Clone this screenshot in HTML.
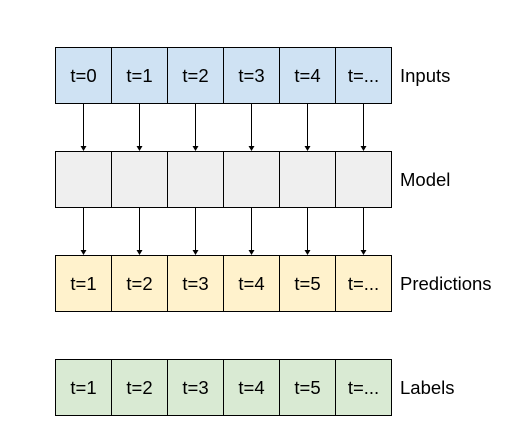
<!DOCTYPE html>
<html><head><meta charset="utf-8"><style>
html,body{margin:0;padding:0;background:#fff;}
svg{display:block;font-family:"Liberation Sans",Arial,sans-serif;}
</style></head><body>
<svg id="d" width="526" height="445" viewBox="0 0 526 445"></svg>
<script>
const rowNames=["Inputs","Model","Predictions","Labels"];
const rowTops=[47,151,255,359];
const rowFills=["#cfe2f3","#efefef","#fff2cc","#d9ead3"];
const cellTexts=[["t=0","t=1","t=2","t=3","t=4","t=..."],["","","","","",""],["t=1","t=2","t=3","t=4","t=5","t=..."],["t=1","t=2","t=3","t=4","t=5","t=..."]];
const arrowRows=[0,1];
const NS="http://www.w3.org/2000/svg";
const svg=document.getElementById('d');
const x0=55,cw=56,ch=56;
function mk(t,a,p){const e=document.createElementNS(NS,t);for(const k in a)e.setAttribute(k,a[k]);(p||svg).appendChild(e);return e;}
rowNames.forEach((name,r)=>{
  const g=mk('g',{});
  
  
  cellTexts[r].forEach((t,i)=>{
    const rc=mk('rect',{x:x0+i*cw+0.5,y:rowTops[r]+0.5,width:cw,height:ch,fill:rowFills[r],stroke:'#000','stroke-width':1},g);
    
    
    if(t){const tx=mk('text',{x:x0+i*cw+cw/2+0.5,y:rowTops[r]+ch/2+7,'text-anchor':'middle','font-size':18.5,fill:'#000'},g);tx.textContent=t;
      
      }
  });
  const lb=mk('text',{x:400,y:rowTops[r]+ch/2+7,'font-size':18.5,fill:'#000'});
  lb.textContent=name;
  
  
});
arrowRows.forEach(r=>{
  for(let i=0;i<6;i++){
    const x=x0+i*cw+cw/2+0.5, y1=rowTops[r]+ch+1, y2=rowTops[r+1];
    const l=mk('line',{x1:x,y1:y1,x2:x,y2:y2-4,stroke:'#000','stroke-width':1});
    
    
    const p=mk('polygon',{points:`${x-3},${y2-5} ${x+3},${y2-5} ${x},${y2}`,fill:'#000'});
    
    
  }
});
</script>
</body></html>
